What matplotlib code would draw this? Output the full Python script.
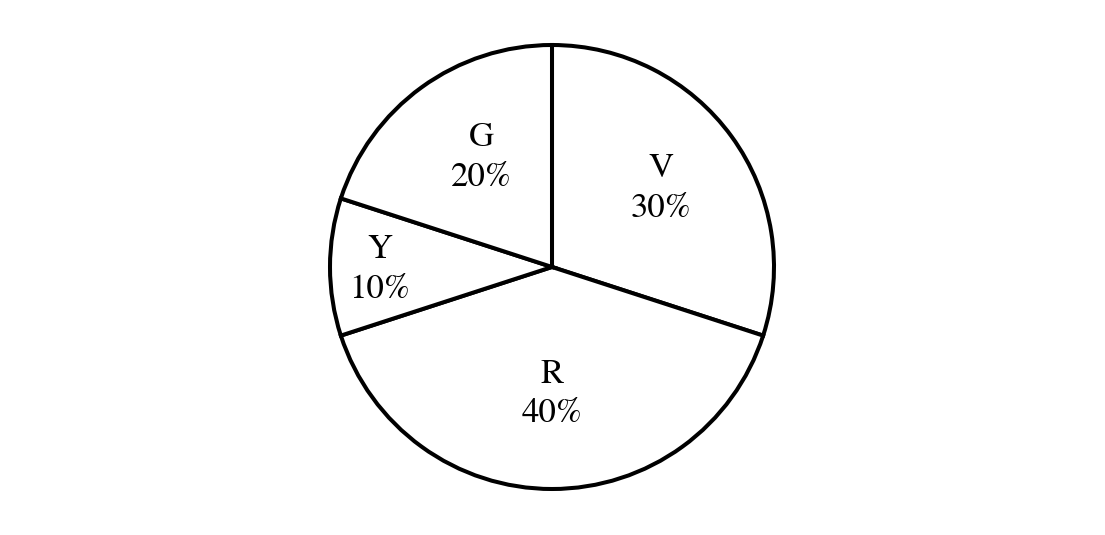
import numpy as np
import matplotlib
matplotlib.use("Agg")
import matplotlib.pyplot as plt

# Datos del gráfico (en sentido horario desde arriba)
etiquetas = ["V", "R", "Y", "G"]
porcentajes = [30, 40, 10, 20]

# posición de cada etiqueta: distancia (fracción del radio) y desvío angular
dist_etiquetas = [0.605, 0.575, 0.775, 0.585]
desvio_ang = [-0.5, 0, 1, -3]

plt.rcParams['font.family'] = ['STIXGeneral', 'Liberation Serif', 'DejaVu Serif']

fig = plt.figure(figsize=(11.05, 5.35), dpi=100)
ax = fig.add_axes([0, 0, 1, 1])

cuñas, _ = ax.pie(porcentajes, startangle=90, counterclock=False,
                  colors=['white'] * len(porcentajes), radius=1,
                  wedgeprops=dict(edgecolor='black', linewidth=2.9,
                                  joinstyle='miter'))

# Etiquetas dentro de cada sector
for cuña, et, p, d, da in zip(cuñas, etiquetas, porcentajes, dist_etiquetas, desvio_ang):
    ang = np.deg2rad((cuña.theta1 + cuña.theta2) / 2 + da)
    ax.text(d * np.cos(ang), d * np.sin(ang), f"{et}\n{p}%",
            ha='center', va='center', multialignment='center',
            fontsize=25, linespacing=1.3)

# Centro del círculo en (552, 267) px, radio 222 px
r_px = 222
ax.set_xlim(-552 / r_px, (1105 - 552) / r_px)
ax.set_ylim(-(535 - 267) / r_px, 267 / r_px)
ax.set_aspect('auto')
ax.axis('off')

fig.savefig('out.png', dpi=100)
